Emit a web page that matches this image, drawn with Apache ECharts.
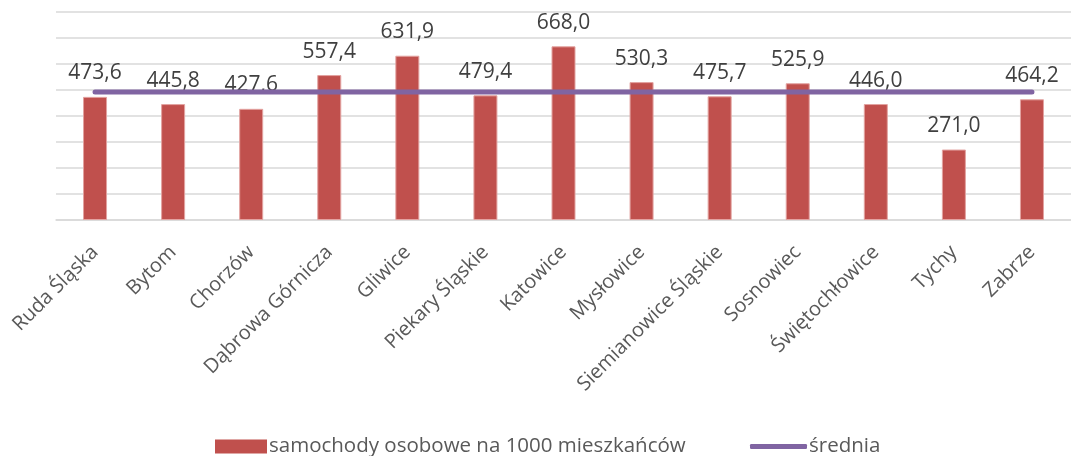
<!DOCTYPE html>
<html>
<head>
<meta charset="utf-8">
<script src="https://cdn.jsdelivr.net/npm/echarts@6/dist/echarts.min.js"></script>
<style>
  html, body { margin: 0; padding: 0; background: #fff; }
  #chart { width: 1071px; height: 456px; }
</style>
</head>
<body>
<div id="chart"></div>
<script>
// miasta
var cities = ['Ruda Śląska', 'Bytom', 'Chorzów', 'Dąbrowa Górnicza', 'Gliwice', 'Piekary Śląskie',
  'Katowice', 'Mysłowice', 'Siemianowice Śląskie', 'Sosnowiec', 'Świętochłowice', 'Tychy', 'Zabrze'];
// samochody osobowe na 1000 mieszkańców
var cars = [473.6, 445.8, 427.6, 557.4, 631.9, 479.4, 668.0, 530.3, 475.7, 525.9, 446.0, 271.0, 464.2];
// średnia
var avg = [492.1, 492.1, 492.1, 492.1, 492.1, 492.1, 492.1, 492.1, 492.1, 492.1, 492.1, 492.1, 492.1];

var font = 'Open Sans';
var barName = 'samochody osobowe na 1000 mieszkańców';
var lineName = 'średnia';

var chart = echarts.init(document.getElementById('chart'));
var option = {
  animation: false,
  textStyle: { fontFamily: font },
  grid: { left: 56, right: -5, top: 12, height: 208 },
  legend: [
    {
      top: 436,
      left: 215,
      padding: 0,
      itemWidth: 52,
      itemHeight: 14,
      itemGap: 5,
      icon: 'rect',
      itemStyle: { borderWidth: 0 },
      textStyle: { fontSize: 20.5, color: '#595959', fontFamily: font, padding: [0, 0, 0, -3] },
      data: [barName]
    },
    {
      top: 436,
      left: 750,
      padding: 0,
      itemWidth: 57,
      itemHeight: 5,
      icon: 'roundRect',
      textStyle: { fontSize: 20.5, color: '#595959', fontFamily: font, padding: [0, 0, 0, -3] },
      data: [lineName]
    }
  ],
  xAxis: {
    type: 'category',
    data: cities,
    axisLine: { lineStyle: { color: '#D9D9D9', width: 1.5 } },
    axisTick: { show: false },
    axisLabel: { rotate: 45, fontSize: 20, color: '#595959', margin: 29, interval: 0 }
  },
  yAxis: {
    type: 'value',
    min: 0,
    max: 800,
    interval: 100,
    axisLabel: { show: false },
    axisLine: { show: false },
    splitLine: { lineStyle: { color: '#D9D9D9', width: 1.5 } }
  },
  series: [
    {
      name: barName,
      type: 'bar',
      data: cars,
      barWidth: 24,
      itemStyle: { color: '#C0504D', borderColor: '#E3A3A1', borderWidth: 1 },
      label: {
        show: true,
        position: 'top',
        distance: 13,
        fontSize: 21,
        color: '#404040',
        formatter: function (p) { return p.value.toFixed(1).replace('.', ','); }
      }
    },
    {
      name: lineName,
      type: 'line',
      data: avg,
      symbol: 'none',
      z: 3,
      itemStyle: { color: '#8064A2' },
      lineStyle: { color: '#8064A2', width: 5, cap: 'round' }
    }
  ]
};
chart.setOption(option);
</script>
</body>
</html>
